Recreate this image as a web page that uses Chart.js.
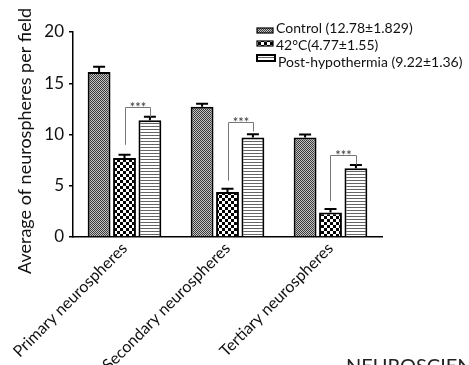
<!DOCTYPE html>
<html>
<head>
<meta charset="utf-8">
<script src="https://cdn.jsdelivr.net/npm/chart.js@4.4.1/dist/chart.umd.min.js"></script>
<style>
    html, body { margin: 0; padding: 0; background: #fff; }
    #wrap { width: 469px; height: 365px; }
</style>
</head>
<body>
<div id="wrap"><canvas id="chart" width="469" height="365"></canvas></div>
<script>
const categories = ['Primary neurospheres', 'Secondary neurospheres', 'Tertiary neurospheres'];
const seriesNames = ['Control (12.78±1.829)', '42°C(4.77±1.55)', 'Post-hypothermia (9.22±1.36)'];
const controlValues = [16.1, 12.7, 9.7];
const controlErrors = [0.5, 0.3, 0.3];
const heatValues = [7.7, 4.4, 2.4];
const heatErrors = [0.33, 0.3, 0.32];
const postValues = [11.4, 9.7, 6.7];
const postErrors = [0.32, 0.32, 0.32];
const yTicks = [0, 5, 10, 15, 20];
// significance brackets between the 42°C and post-hypothermia bars
const bracketTop = [12.7, 11.2, 8.0];
const bracketLeftEnd = [9.0, 5.5, 3.5];
const bracketRightEnd = [11.7, 10.3, 7.05];
const bracketLabel = '***';

const FONT = 'Lato, "Liberation Sans", sans-serif';

const makePattern = (w, h, paint) => {
    const c = document.createElement('canvas');
    c.width = w; c.height = h;
    const g = c.getContext('2d');
    paint(g);
    return g.createPattern(c, 'repeat');
};

const ctx = document.getElementById('chart').getContext('2d');

const controlFill = makePattern(2, 2, g => {
    g.fillStyle = '#c4c4c4'; g.fillRect(0, 0, 2, 2);
    g.fillStyle = '#3a3a3a'; g.fillRect(0, 0, 1, 1); g.fillRect(1, 1, 1, 1);
});
const heatFill = makePattern(6, 6, g => {
    g.fillStyle = '#fff'; g.fillRect(0, 0, 6, 6);
    g.fillStyle = '#000'; g.fillRect(0, 0, 3, 3); g.fillRect(3, 3, 3, 3);
});
const postFill = makePattern(1, 3, g => {
    g.fillStyle = '#fff'; g.fillRect(0, 0, 1, 3);
    g.fillStyle = '#666'; g.fillRect(0, 0, 1, 1);
});
const fills = [controlFill, heatFill, postFill];
const errors = [controlErrors, heatErrors, postErrors];

const extras = {
    id: 'extras',
    afterDatasetsDraw(chart) {
        const c = chart.ctx;
        const y = chart.scales.y;
        c.save();

        // error bars (upper cap only)
        c.strokeStyle = '#000';
        c.lineWidth = 2;
        chart.data.datasets.forEach((ds, i) => {
            chart.getDatasetMeta(i).data.forEach((bar, j) => {
                const top = y.getPixelForValue(ds.data[j]);
                const err = y.getPixelForValue(ds.data[j] + errors[i][j]);
                c.beginPath();
                c.moveTo(bar.x, top);
                c.lineTo(bar.x, err);
                c.moveTo(bar.x - 6, err);
                c.lineTo(bar.x + 6, err);
                c.stroke();
            });
        });

        // brackets
        const heatMeta = chart.getDatasetMeta(1).data;
        const postMeta = chart.getDatasetMeta(2).data;
        c.strokeStyle = '#777';
        c.lineWidth = 1;
        c.fillStyle = '#333';
        c.font = '13px ' + FONT;
        c.textAlign = 'center';
        c.textBaseline = 'alphabetic';
        categories.forEach((_, j) => {
            const x1 = Math.round(heatMeta[j].x) + 0.5;
            const x2 = Math.round(postMeta[j].x) + 0.5;
            const yt = Math.round(y.getPixelForValue(bracketTop[j])) + 0.5;
            c.beginPath();
            c.moveTo(x1, y.getPixelForValue(bracketLeftEnd[j]));
            c.lineTo(x1, yt);
            c.lineTo(x2, yt);
            c.lineTo(x2, y.getPixelForValue(bracketRightEnd[j]));
            c.stroke();
            c.fillText(bracketLabel, (x1 + x2) / 2, yt + 4);
        });

        // y axis title
        c.save();
        c.translate(25, 141);
        c.rotate(-Math.PI / 2);
        c.fillStyle = '#111';
        c.font = '18px ' + FONT;
        c.textAlign = 'center';
        c.textBaseline = 'middle';
        c.fillText('Average of neurospheres per field', 0, 0);
        c.restore();

        // legend
        const boxes = [[257, 28, 16, 5], [257, 41, 16, 5], [257, 55, 18, 6]];
        const baselines = [33, 50, 67];
        c.font = '14px ' + FONT;
        c.textAlign = 'left';
        c.textBaseline = 'alphabetic';
        seriesNames.forEach((name, k) => {
            const [bx, by, bw, bh] = boxes[k];
            c.fillStyle = fills[k];
            c.fillRect(bx, by, bw, bh);
            c.strokeStyle = '#000';
            c.lineWidth = k === 2 ? 2 : 1.2;
            c.strokeRect(bx, by, bw, bh);
            c.fillStyle = '#111';
            c.fillText(name, bx + bw + 3, baselines[k]);
        });

        // cropped watermark at the bottom edge
        c.fillStyle = '#222';
        c.font = '20px ' + FONT;
        c.textBaseline = 'top';
        c.fillText('NEUROSCIENCE', 346, 357);

        c.restore();
    }
};

new Chart(ctx, {
    type: 'bar',
    data: {
        labels: categories,
        datasets: [controlValues, heatValues, postValues].map((vals, i) => ({
            label: seriesNames[i],
            data: vals,
            backgroundColor: fills[i],
            borderColor: '#000',
            borderWidth: 2,
            borderSkipped: 'bottom',
            categoryPercentage: 0.74,
            barPercentage: 0.9
        }))
    },
    options: {
        responsive: false,
        animation: false,
        devicePixelRatio: 1,
        layout: { padding: { top: 32, right: 87, left: 0, bottom: 0 } },
        plugins: { legend: { display: false }, tooltip: { enabled: false } },
        scales: {
            x: {
                grid: { display: false },
                border: { color: '#000', width: 1.5 },
                ticks: {
                    color: '#111', maxRotation: 45, minRotation: 45, padding: -6,
                    font: { family: FONT, size: 16 }
                },
                afterFit: s => { s.height = 128; }
            },
            y: {
                min: 0, max: 20,
                afterBuildTicks: s => { s.ticks = yTicks.map(v => ({ value: v })); },
                grid: { drawOnChartArea: false, tickLength: 4, color: '#000', lineWidth: 1.5 },
                border: { color: '#000', width: 1.5 },
                ticks: { color: '#111', padding: 5, font: { family: FONT, size: 17 } },
                afterFit: s => { s.width = 73; }
            }
        }
    },
    plugins: [extras]
});
</script>
</body>
</html>
